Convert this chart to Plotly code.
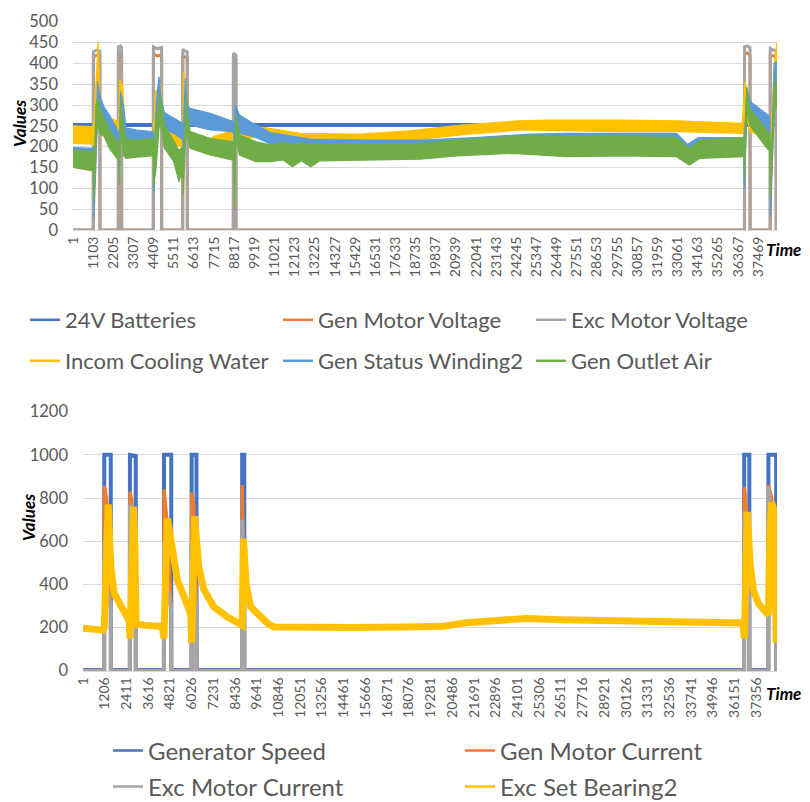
import plotly.graph_objects as go

# ---------------- top chart data ----------------
TOP_TICKS = [1, 1103, 2205, 3307, 4409, 5511, 6613, 7715, 8817, 9919, 11021, 12123, 13225,
             14327, 15429, 16531, 17633, 18735, 19837, 20939, 22041, 23143, 24245, 25347,
             26449, 27551, 28653, 29755, 30857, 31959, 33061, 34163, 35265, 36367, 37469]

BAT_T = [1, 20000, 38500]
BAT_V = [252, 251, 252]

EXCV_T = [1, 1110, 1115, 1300, 1470, 1477, 2478, 2483, 2600, 2659, 2664, 4393, 4398, 4600,
          4847, 4852, 6000, 6005, 6120, 6247, 6252, 8768, 8773, 8911, 8916, 36720, 36725,
          36880, 37025, 37030, 38126, 38131, 38300, 38450, 38455, 38500]
EXCV_V = [0, 0, 428, 432, 430, 0, 0, 440, 442, 438, 0, 0, 440, 435, 438, 0, 0, 434, 430, 428,
          0, 0, 424, 420, 0, 0, 440, 442, 438, 0, 0, 436, 432, 430, 0, 0]
GENV_V = [0, 0, 415, 420, 418, 0, 0, 420, 424, 420, 0, 0, 422, 418, 420, 0, 0, 418, 415, 414,
          0, 0, 412, 410, 0, 0, 422, 425, 420, 0, 0, 420, 418, 416, 0, 0]

YEL_T = [1, 1100, 1130, 1300, 1380, 1480, 1700, 2400, 2500, 2560, 2700, 2800, 2900, 3200, 3600,
         4400, 4500, 4800, 4900, 5000, 5500, 6000, 6050, 6200, 6300, 6400, 6900, 7300, 7700,
         8500, 8790, 8850, 8930, 9500, 10500, 12400, 15700, 18400, 21200, 24400, 26000, 30000,
         33000, 36600, 36750, 36950, 37050, 37950, 38100, 38150, 38350, 38500]
YEL_LO = [208, 206, 200, 300, 330, 260, 242, 232, 210, 290, 300, 240, 175, 178, 192, 195, 260,
          290, 240, 222, 205, 200, 300, 280, 215, 205, 190, 182, 195, 205, 205, 230, 220, 220,
          225, 208, 208, 215, 228, 240, 238, 236, 236, 232, 280, 250, 235, 222, 200, 120, 300, 380]
YEL_HI = [250, 248, 250, 380, 452, 300, 276, 262, 250, 360, 350, 290, 215, 215, 225, 228, 330,
          350, 280, 260, 240, 238, 380, 340, 245, 235, 225, 212, 225, 235, 235, 262, 250, 248,
          246, 232, 230, 238, 252, 262, 264, 264, 262, 256, 356, 300, 265, 250, 240, 200, 400, 452]

LB_T = [1, 1100, 1130, 1150, 1250, 1350, 1480, 1700, 2000, 2400, 2500, 2530, 2600, 2750, 2900,
        3500, 4300, 4400, 4420, 4550, 4700, 4850, 5000, 5500, 5900, 6000, 6030, 6150, 6260,
        6400, 7500, 8700, 8790, 8830, 8880, 9100, 10000, 10800, 13000, 16000, 19000, 22000,
        25000, 27000, 33000, 33400, 33600, 34200, 36600, 36700, 36720, 36850, 37050, 38000,
        38100, 38150, 38350, 38500]
LB_LO = [186, 184, 150, 30, 150, 280, 270, 255, 235, 205, 205, 130, 280, 240, 215, 214, 212,
         210, 90, 200, 300, 260, 244, 232, 220, 218, 180, 300, 260, 252, 240, 236, 232, 150,
         250, 232, 222, 206, 204, 204, 205, 210, 214, 215, 212, 200, 194, 205, 205, 200, 100,
         280, 276, 236, 230, 30, 300, 330]
LB_HI = [198, 196, 200, 110, 250, 356, 320, 295, 275, 240, 235, 200, 332, 300, 245, 240, 238,
         236, 160, 300, 368, 310, 282, 270, 260, 256, 250, 364, 300, 292, 280, 262, 260, 250,
         300, 276, 252, 234, 218, 216, 216, 222, 230, 232, 232, 215, 205, 222, 222, 222, 200,
         340, 308, 276, 270, 100, 400, 404]

GR_T = [1, 1100, 1130, 1150, 1250, 1350, 1480, 1700, 2000, 2400, 2500, 2530, 2600, 2750, 2900,
        3500, 4300, 4400, 4420, 4550, 4750, 4850, 5000, 5500, 5800, 5900, 6000, 6030, 6200,
        6260, 6400, 7500, 8700, 8790, 8840, 8900, 9100, 10000, 10800, 11500, 12000, 12500,
        13000, 13500, 16000, 19000, 21000, 24000, 27000, 30000, 33000, 33700, 34300, 36600,
        36700, 36720, 36850, 37000, 37950, 38100, 38150, 38350, 38500]
GR_LO = [150, 142, 120, 68, 200, 260, 230, 225, 195, 172, 172, 108, 250, 180, 172, 175, 178,
         178, 108, 150, 270, 240, 196, 165, 116, 130, 130, 84, 260, 220, 196, 180, 168, 168, 48,
         220, 180, 164, 164, 168, 152, 166, 152, 166, 168, 170, 178, 184, 176, 178, 176, 156,
         172, 176, 176, 124, 290, 252, 196, 190, 76, 280, 300]
GR_HI = [192, 188, 180, 130, 300, 316, 290, 270, 240, 212, 212, 180, 308, 250, 218, 215, 220,
         220, 170, 260, 324, 290, 252, 215, 190, 196, 196, 150, 324, 280, 236, 220, 212, 212,
         120, 280, 228, 212, 204, 210, 205, 208, 206, 208, 206, 208, 216, 224, 224, 224, 222,
         196, 215, 222, 222, 200, 344, 292, 236, 230, 150, 340, 365]

# ---------------- bottom chart data ----------------
BOT_TICKS = [1, 1206, 2411, 3616, 4821, 6026, 7231, 8436, 9641, 10846, 12051, 13256, 14461,
             15666, 16871, 18076, 19281, 20486, 21691, 22896, 24101, 25306, 26511, 27716,
             28921, 30126, 31331, 32536, 33741, 34946, 36151, 37356]

GS_T = [1, 1177, 1182, 1540, 1547, 2600, 2605, 2925, 2930, 4490, 4495, 4895, 4900, 6023, 6028,
        6295, 6300, 8825, 8830, 8947, 8952, 36676, 36681, 36965, 36970, 38020, 38025, 38455,
        38460, 38500]
GS_V = [3, 3, 1000, 1000, 3, 3, 1000, 995, 3, 3, 1000, 1000, 3, 3, 1000, 1000, 3, 3, 1000,
        1000, 3, 3, 1000, 1000, 3, 3, 1000, 1000, 3, 3]

CUR_T = [1, 1177, 1182, 1300, 1540, 1547, 2600, 2605, 2700, 2925, 2930, 4490, 4495, 4650,
         4895, 4900, 6023, 6028, 6150, 6295, 6300, 8825, 8830, 8890, 8947, 8952, 36676, 36681,
         36800, 36965, 36970, 38020, 38025, 38200, 38455, 38460, 38500]
GMC_V = [0, 0, 855, 800, 290, 0, 0, 830, 790, 300, 0, 0, 840, 700, 290, 0, 0, 825, 760, 290, 0,
         0, 860, 600, 300, 0, 0, 850, 760, 300, 0, 0, 860, 800, 300, 0, 0]
EMC_V = [0, 0, 600, 400, 290, 0, 0, 770, 600, 290, 0, 0, 600, 400, 280, 0, 0, 600, 400, 280, 0,
         0, 700, 450, 320, 0, 0, 740, 500, 300, 0, 0, 850, 500, 200, 0, 0]

ESB_T = [1, 600, 1100, 1180, 1300, 1400, 1480, 1547, 1731, 2100, 2469, 2560, 2610, 2680, 2800,
         2880, 2950, 3500, 4400, 4490, 4550, 4680, 4800, 4957, 5233, 5601, 5968, 6030, 6100,
         6190, 6300, 6428, 6705, 7258, 7994, 8731, 8830, 8900, 9050, 9300, 9800, 10300, 10600,
         12000, 15000, 18000, 20000, 21256, 22500, 24574, 26500, 28625, 32310, 35990, 36600,
         36690, 36850, 37007, 37190, 37466, 37835, 38020, 38100, 38200, 38350, 38460]
ESB_V = [197, 195, 188, 200, 600, 770, 600, 481, 358, 296, 250, 232, 150, 420, 760, 560, 215,
         210, 205, 150, 420, 705, 650, 543, 420, 345, 265, 130, 450, 715, 600, 480, 375, 296,
         250, 219, 210, 612, 400, 296, 250, 215, 203, 200, 200, 203, 206, 222, 232, 242, 236,
         232, 232, 224, 221, 150, 736, 497, 373, 312, 273, 258, 620, 780, 740, 130]

C_BLUE, C_ORANGE, C_GRAY = "#4472C4", "#ED7D31", "#A5A5A5"
C_YEL, C_LBLUE, C_GREEN = "#FFC000", "#5B9BD5", "#70AD47"
FONT = "Lato, 'Open Sans', sans-serif"
W, H = 810, 802
OFF = 8  # the page body adds an 8px margin; place everything relative to the screenshot


def px(x):
    return (x - OFF) / W


def py(y):
    return 1 - (y - OFF) / H


fig = go.Figure()


def line(x, y, color, width, xa, ya):
    fig.add_trace(go.Scatter(x=x, y=y, mode="lines", line=dict(color=color, width=width),
                             xaxis=xa, yaxis=ya, showlegend=False, hoverinfo="skip"))


def band(x, lo, hi, color, xa, ya):
    fig.add_trace(go.Scatter(x=list(x) + list(x)[::-1], y=list(hi) + list(lo)[::-1],
                             mode="lines", fill="toself", fillcolor=color,
                             line=dict(color=color, width=1.2), xaxis=xa, yaxis=ya,
                             showlegend=False, hoverinfo="skip"))


# top chart marks (Excel drawing order)
line(BAT_T, BAT_V, C_BLUE, 4, "x", "y")
line(EXCV_T, GENV_V, C_ORANGE, 3, "x", "y")
line(EXCV_T, EXCV_V, C_GRAY, 3, "x", "y")
band(YEL_T, YEL_LO, YEL_HI, C_YEL, "x", "y")
band(LB_T, LB_LO, LB_HI, C_LBLUE, "x", "y")
band(GR_T, GR_LO, GR_HI, C_GREEN, "x", "y")

# bottom chart marks
line(GS_T, GS_V, C_BLUE, 4, "x2", "y2")
line(CUR_T, GMC_V, C_ORANGE, 3.5, "x2", "y2")
line(CUR_T, EMC_V, C_GRAY, 4, "x2", "y2")
line(ESB_T, ESB_V, C_YEL, 7, "x2", "y2")

# legend entries
LEG = [("24V Batteries", C_BLUE, "legend", "x", "y"),
       ("Gen Motor Voltage", C_ORANGE, "legend", "x", "y"),
       ("Exc Motor Voltage", C_GRAY, "legend", "x", "y"),
       ("Incom Cooling Water", C_YEL, "legend2", "x", "y"),
       ("Gen Status Winding2", C_LBLUE, "legend2", "x", "y"),
       ("Gen Outlet Air", C_GREEN, "legend2", "x", "y"),
       ("Generator Speed", C_BLUE, "legend3", "x2", "y2"),
       ("Gen Motor Current", C_ORANGE, "legend3", "x2", "y2"),
       ("Exc Motor Current", C_GRAY, "legend4", "x2", "y2"),
       ("Exc Set Bearing2", C_YEL, "legend4", "x2", "y2")]
for name, col, lg, xa, ya in LEG:
    fig.add_trace(go.Scatter(x=[None], y=[None], mode="lines", name=name,
                             line=dict(color=col, width=2.5), legend=lg, xaxis=xa, yaxis=ya))

tickfont = dict(family=FONT, size=14, color="#595959")
yfont = dict(family=FONT, size=16.5, color="#595959")


def leg(x_px, y_px, ew, size):
    return dict(orientation="h", x=px(x_px), y=py(y_px), xanchor="left", yanchor="middle",
                entrywidth=ew, entrywidthmode="pixels", bgcolor="rgba(0,0,0,0)",
                font=dict(family=FONT, size=size, color="#595959"), itemclick=False)


fig.update_layout(
    width=W, height=H, paper_bgcolor="white", plot_bgcolor="white",
    margin=dict(l=0, r=0, t=0, b=0, autoexpand=False),
    xaxis=dict(domain=[px(73), px(777)], anchor="y", range=[1, 38500], tickmode="array",
               tickvals=TOP_TICKS, ticktext=[str(v) for v in TOP_TICKS], tickangle=-90,
               tickfont=tickfont, showgrid=False, zeroline=False, showline=True,
               linecolor="#D9D9D9"),
    yaxis=dict(domain=[py(230), py(21.7)], anchor="x", range=[0, 500], dtick=50,
               tickfont=yfont, gridcolor="#D9D9D9", zeroline=False, showline=False,
               ticklabelstandoff=14),
    xaxis2=dict(domain=[px(83), px(777)], anchor="y2", range=[1, 38500], tickmode="array",
                tickvals=BOT_TICKS, ticktext=[str(v) for v in BOT_TICKS], tickangle=-90,
                tickfont=tickfont, showgrid=False, zeroline=False, showline=True,
                linecolor="#D9D9D9"),
    yaxis2=dict(domain=[py(670.7), py(411.7)], anchor="x2", range=[0, 1200],
                dtick=200, tickfont=yfont, gridcolor="#D9D9D9", zeroline=False,
                showline=False, ticklabelstandoff=14),
    legend=leg(25, 320, 208, 22),
    legend2=leg(25, 361, 208, 22),
    legend3=leg(108, 751, 307, 24),
    legend4=leg(108, 787, 307, 24),
)

for txt, xp, yp, ang in [("Values", 20, 124, -90), ("Time", 783, 250, 0),
                         ("Values", 28, 518, -90), ("Time", 783, 693, 0)]:
    fig.add_annotation(text="<b><i>%s</i></b>" % txt, x=px(xp), y=py(yp), xref="paper",
                       yref="paper", xanchor="center", yanchor="middle", showarrow=False,
                       textangle=ang, font=dict(family=FONT, size=17, color="black"))

fig.write_html("out.html")
